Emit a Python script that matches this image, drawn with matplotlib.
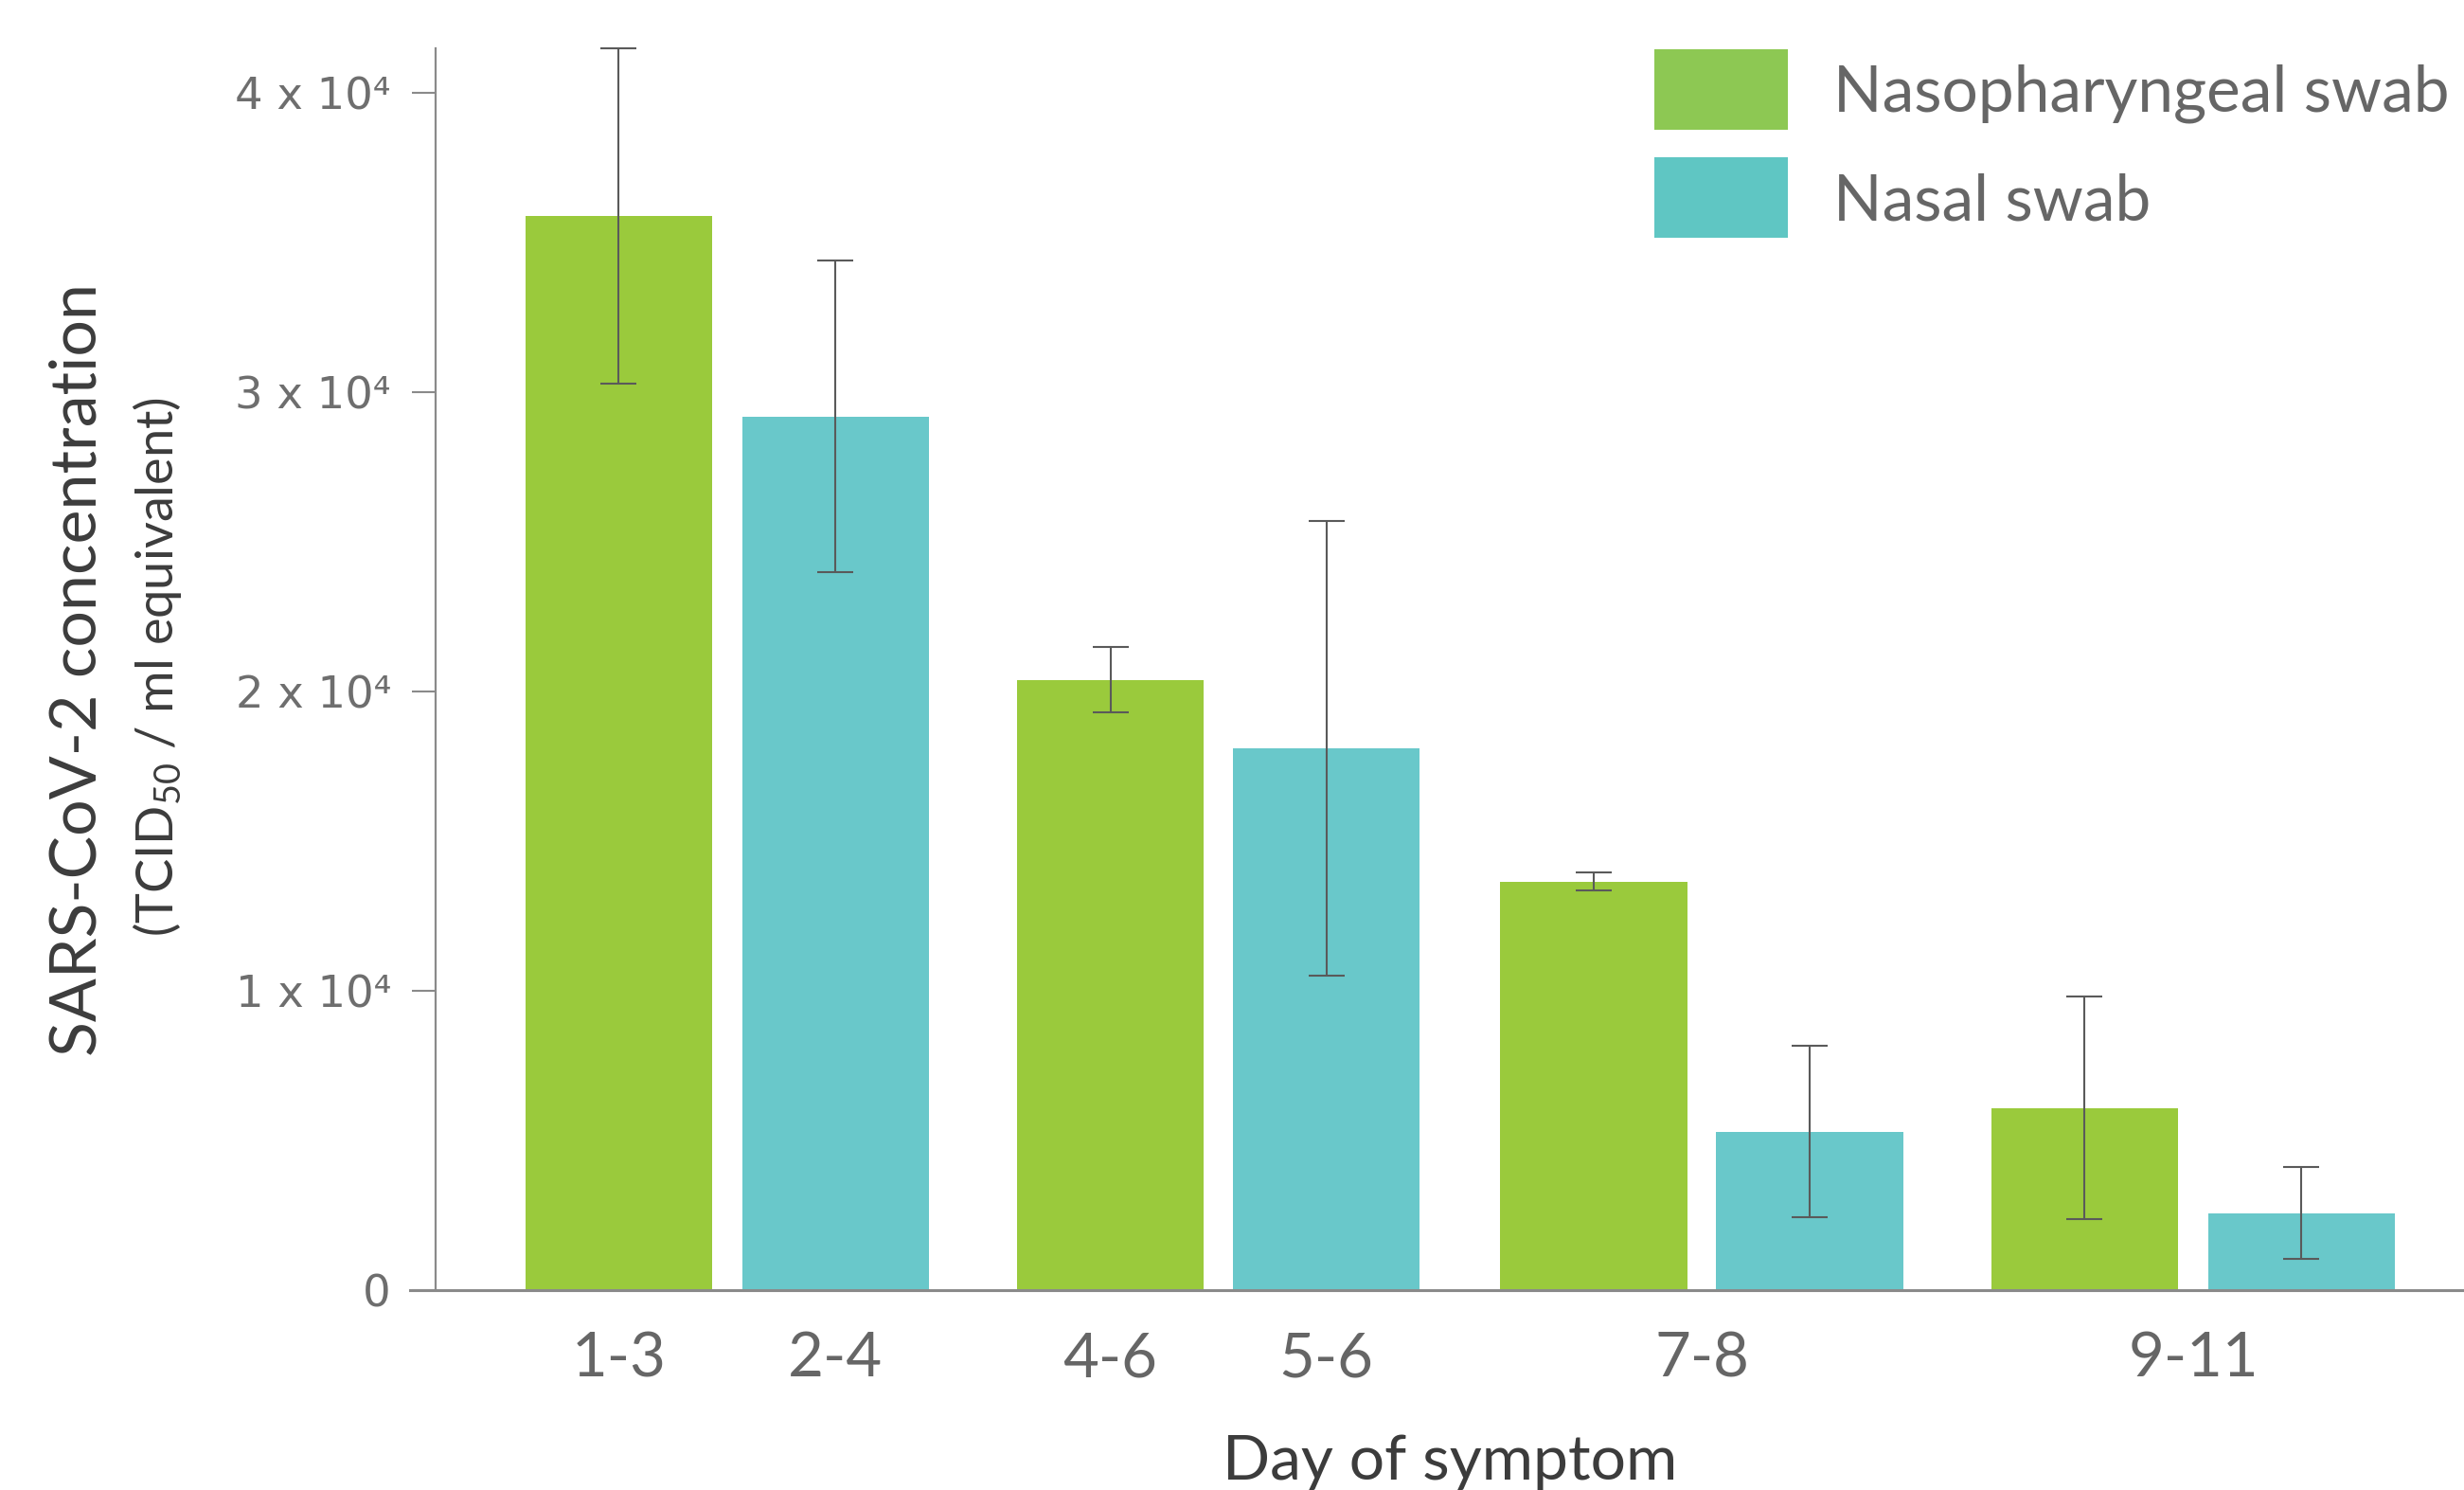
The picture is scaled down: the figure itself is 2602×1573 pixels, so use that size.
import matplotlib
matplotlib.use("Agg")
import matplotlib.pyplot as plt
from matplotlib.patches import Rectangle

# ---------------- data ----------------
naso_days = ["1-3", "4-6", "7-8", "9-11"]
naso_vals = [35900, 20400, 13650, 6090]
naso_err = [5600, 1100, 300, 3720]

nasal_days = ["2-4", "5-6", "7-8", "9-11"]
nasal_vals = [29200, 18100, 5300, 2570]
nasal_err = [5200, 7600, 2870, 1530]

series_names = ["Nasopharyngeal swab", "Nasal swab"]
ytick_vals = [0, 10000, 20000, 30000, 40000]

# ---------------- layout ----------------
naso_x = [0, 2.268, 4.496, 6.761]
nasal_x = [1, 3.264, 5.493, 7.761]
bar_w = 0.862

W, H = 2602, 1573
DPI = 100
plt.rcParams['mathtext.fontset'] = 'custom'
plt.rcParams['mathtext.rm'] = 'Lato'
plt.rcParams['mathtext.it'] = 'Lato:italic'
plt.rcParams['mathtext.bf'] = 'Lato:bold'

fig = plt.figure(figsize=(W / DPI, H / DPI), dpi=DPI)
ax = fig.add_axes([460 / W, 1 - 1362 / H, (W - 460) / W, (1362 - 51) / H])

green_bar = "#9aca3c"
teal_bar = "#69c8ca"
err_col = "#5a5a5a"

ekw = dict(ecolor=err_col, elinewidth=1.5, capsize=14, capthick=1.5)
b1 = ax.bar(naso_x, naso_vals, width=bar_w, color=green_bar, yerr=naso_err,
            error_kw=ekw, zorder=2)
b2 = ax.bar(nasal_x, nasal_vals, width=bar_w, color=teal_bar, yerr=nasal_err,
            error_kw=ekw, zorder=2)
for b in (b1, b2):
    for ln in b.errorbar.lines[1] + b.errorbar.lines[2]:
        ln.set_clip_on(False)

ax.set_xlim(-0.844, 8.51)
ax.set_ylim(0, 41500)

# x ticks: one per day label, centred on its bars
pos = {}
for d, x in list(zip(naso_days, naso_x)) + list(zip(nasal_days, nasal_x)):
    pos.setdefault(d, []).append(x)
order = sorted(pos, key=lambda d: sum(pos[d]) / len(pos[d]))
ax.set_xticks([sum(pos[d]) / len(pos[d]) for d in order])
ax.set_xticklabels(order, fontfamily="Lato", fontsize=47, color="#666666")
ax.tick_params(axis="x", length=0, pad=31)

ax.set_yticks(ytick_vals)
ax.set_yticklabels(["0" if v == 0 else f"{v // 10000} x 10\u2074" for v in ytick_vals],
                   fontfamily="DejaVu Sans", fontsize=33.5, color="#6e6e6e")
ax.tick_params(axis="y", length=18, width=1.5, color="#8a8a8a", pad=16)

for s in ("top", "right"):
    ax.spines[s].set_visible(False)
ax.spines["left"].set_color("#8a8a8a")
ax.spines["left"].set_linewidth(1.6)
ax.spines["bottom"].set_color("#8a8a8a")
ax.spines["bottom"].set_linewidth(2.2)
ax.spines["bottom"].set_bounds(-0.844 - 0.12, 8.51)
ax.spines["bottom"].set_clip_on(False)

# axis titles
fig.text(83 / W, 1 - 707 / H, "SARS-CoV-2 concentration", rotation=90,
         ha="center", va="center", fontfamily="Lato", fontsize=49, color="#3c3c3c")
fig.text(166 / W, 1 - 704 / H, r"(TCID$_{50}$ / ml equivalent)", rotation=90,
         ha="center", va="center", fontfamily="Lato", fontsize=39, color="#3c3c3c")
fig.text(1531 / W, 1 - 1562 / H, "Day of symptom", ha="center", va="baseline",
         fontfamily="Lato", fontsize=47.5, color="#3c3c3c")

# legend (drawn in figure pixels)
leg_cols = ["#8dc853", "#5fc6c3"]
leg_tops = [52, 166]
leg_base = [118, 232.5]
for name, col, top, base in zip(series_names, leg_cols, leg_tops, leg_base):
    fig.add_artist(Rectangle((1747 / W, 1 - (top + 85) / H), 141 / W, 85 / H,
                             transform=fig.transFigure, color=col, lw=0))
    fig.text(1936 / W, 1 - base / H, name, ha="left", va="baseline",
             fontfamily="Lato", fontsize=48.7, color="#666666")

fig.savefig("out.png", dpi=DPI)
